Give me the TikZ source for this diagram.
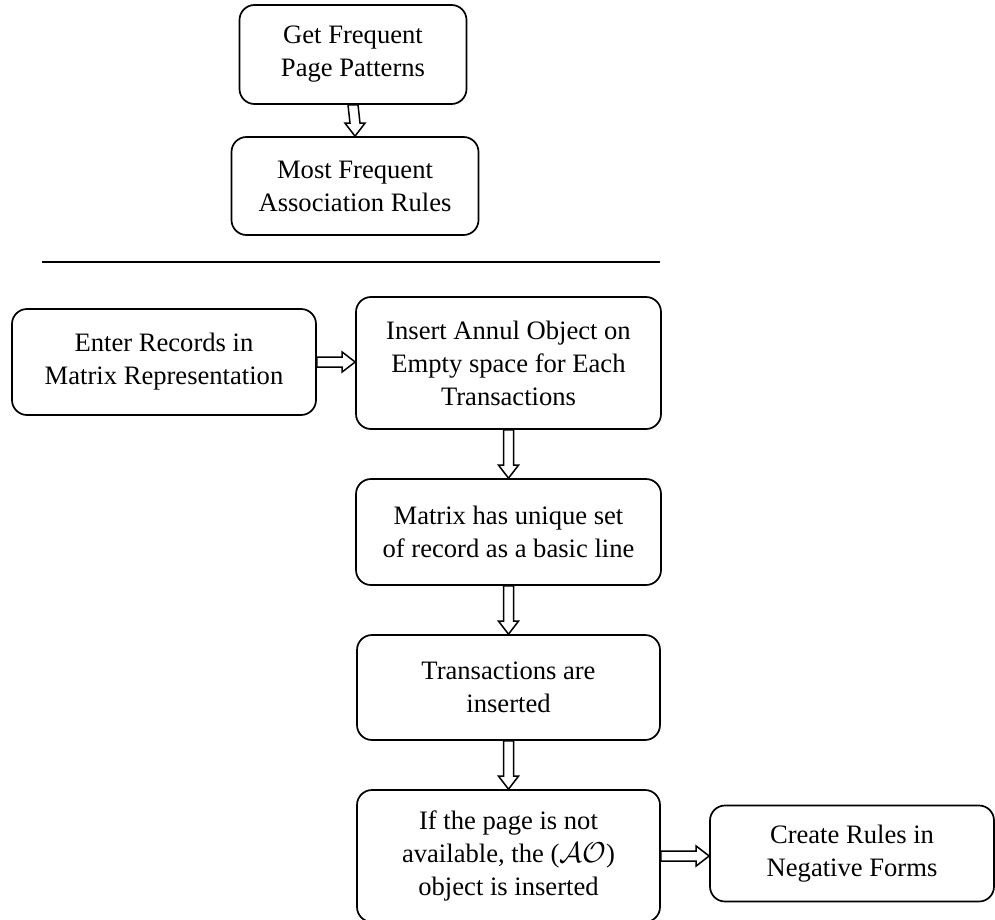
\documentclass[tikz,border=0pt]{standalone}
\usepackage{fontspec}
\setmainfont{Liberation Serif}
\usetikzlibrary{calc}
\tikzset{
  box/.style={draw, rounded corners=7.5pt, align=center, inner sep=0pt,
    line width=0.85pt, font=\fontsize{13.3}{16.5}\selectfont},
  hollowarrow/.style={draw, line width=0.75pt, fill=white, line join=miter}
}
\newcommand{\vArrow}[2]{%
  \draw[hollowarrow] ($(#1.south)+(-5,0)$) -- ($(#2.north)+(-5,-13)$)
    -- ($(#2.north)+(-10,-13)$) -- (#2.north) -- ($(#2.north)+(10,-13)$)
    -- ($(#2.north)+(5,-13)$) -- ($(#1.south)+(5,0)$) -- cycle;}
\newcommand{\hArrow}[2]{%
  \draw[hollowarrow] ($(#1.east)+(0,-5)$) -- ($(#2.west |- #1.east)+(-13,-5)$)
    -- ($(#2.west |- #1.east)+(-13,-10)$) -- (#2.west |- #1.east)
    -- ($(#2.west |- #1.east)+(-13,10)$) -- ($(#2.west |- #1.east)+(-13,5)$)
    -- ($(#1.east)+(0,5)$) -- cycle;}
\begin{document}
\begin{tikzpicture}[x=0.5pt, y=-0.5pt]
\useasboundingbox (0,0) rectangle (995,920);
\fill[white] (0,0) rectangle (995,920);

\node[box, minimum width=113.5pt, minimum height=49.5pt] (b1) at (353,54.5)
  {Get Frequent\\Page Patterns};
\node[box, minimum width=123.5pt, minimum height=49pt] (b2) at (355,186)
  {Most Frequent\\Association Rules};

\coordinate (sepL) at (42,262);
\coordinate (sepR) at (660,262);
\draw[line width=0.85pt] (sepL) -- (sepR);

\node[box, minimum width=152pt, minimum height=53pt] (enter) at (164,362)
  {Enter Records in\\Matrix Representation};
\node[box, minimum width=152.5pt, minimum height=66pt] (insert) at (508.5,363)
  {Insert Annul Object on\\Empty space for Each\\Transactions};
\node[box, minimum width=152.5pt, minimum height=53pt] (matrix) at (508.5,532)
  {Matrix has unique set\\of record as a basic line};
\node[box, minimum width=151.5pt, minimum height=52.5pt] (trans) at (508.5,687.5)
  {Transactions are\\inserted};
\node[box, minimum width=151.5pt, minimum height=66pt] (ifbox) at (508.5,856)
  {If the page is not\\available, the (\ensuremath{\mathcal{AO}})\\object is inserted};
\node[box, minimum width=142pt, minimum height=48pt] (create) at (852,853.5)
  {Create Rules in\\Negative Forms};

\vArrow{b1}{b2}
\hArrow{enter}{insert}
\vArrow{insert}{matrix}
\vArrow{matrix}{trans}
\vArrow{trans}{ifbox}
\hArrow{ifbox}{create}
\end{tikzpicture}
\end{document}
